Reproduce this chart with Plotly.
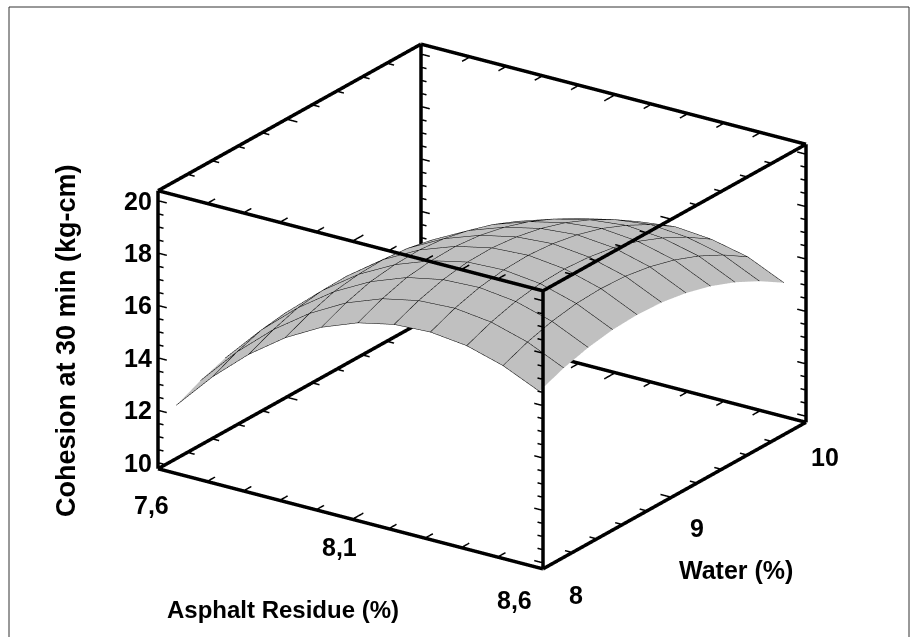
import plotly.graph_objects as go

asphalt = [7.6, 7.7, 7.8, 7.9, 8.0, 8.1, 8.2, 8.3, 8.4, 8.5, 8.6]
water = [8.0, 8.2, 8.4, 8.6, 8.8, 9.0, 9.2, 9.4, 9.6, 9.8, 10.0]
# each row below is one asphalt value, across water
cohesion_by_asphalt = [
    [12.37, 12.80, 13.13, 13.32, 13.40, 13.37, 13.23, 13.00, 12.66, 12.25, 11.73],
    [13.82, 14.25, 14.57, 14.71, 14.75, 14.66, 14.47, 14.20, 13.81, 13.39, 12.87],
    [15.04, 15.46, 15.77, 15.91, 15.94, 15.85, 15.65, 15.37, 14.98, 14.56, 14.03],
    [16.03, 16.44, 16.75, 16.89, 16.93, 16.84, 16.64, 16.36, 15.97, 15.54, 15.00],
    [16.79, 17.20, 17.49, 17.62, 17.66, 17.57, 17.36, 17.07, 16.67, 16.20, 15.61],
    [17.32, 17.72, 18.01, 18.13, 18.16, 18.06, 17.85, 17.54, 17.12, 16.62, 16.01],
    [17.62, 18.01, 18.29, 18.44, 18.46, 18.36, 18.16, 17.86, 17.45, 16.94, 16.34],
    [17.69, 18.08, 18.35, 18.50, 18.54, 18.46, 18.28, 18.00, 17.60, 17.11, 16.51],
    [17.53, 17.91, 18.18, 18.34, 18.38, 18.31, 18.15, 17.87, 17.48, 16.99, 16.39],
    [17.13, 17.51, 17.78, 17.94, 17.99, 17.94, 17.78, 17.52, 17.15, 16.67, 16.08],
    [16.51, 16.88, 17.14, 17.30, 17.35, 17.30, 17.14, 16.88, 16.51, 16.03, 15.45],
]
z_rows = [list(col) for col in zip(*cohesion_by_asphalt)]

x_ticks = [7.685, 7.785, 7.885, 7.985, 8.085, 8.185, 8.285, 8.385, 8.485]
x_major = [8.085]
y_ticks = [8.24, 8.44, 8.65, 8.85, 9.05, 9.26, 9.46, 9.67, 9.87]
y_major = [9.05]
z_ticks = [10, 10.5, 11, 11.5, 12, 12.5, 13, 13.5, 14, 14.5, 15, 15.5, 16, 16.5,
           17, 17.5, 18, 18.5, 19, 19.5, 20]
z_major = [10, 12, 14, 16, 18, 20]
x_labels = [(7.6, "7,6", -25, -32), (8.1, "8,1", -18, -26), (8.6, "8,6", -25, -32)]
y_labels = [(8, "8", 33, -26), (9, "9", 32, -27), (10, "10", 37, -25)]
box_x = [7.55, 8.61]
box_y = [8.0, 10.15]
box_z = [9.77, 20.38]
FONT = "Liberation Sans"
BOLD = dict(family=FONT, size=25, color="black", weight="bold")

x0, x1 = box_x
y0, y1 = box_y
z0, z1 = box_z
PAD = 0.03

def axis(rng):
    span = rng[1] - rng[0]
    return dict(range=[rng[0] - PAD * span, rng[1] + PAD * span], autorange=False,
                title=dict(text=""), visible=False,
                showbackground=False, showgrid=False, zeroline=False, showline=False,
                showticklabels=False, ticks="", showspikes=False)

fig = go.Figure(go.Surface(
    x=asphalt, y=water, z=z_rows,
    colorscale=[[0, "#C0C0C0"], [1, "#C0C0C0"]], showscale=False,
    lighting=dict(ambient=1, diffuse=0, specular=0, roughness=1, fresnel=0),
    contours=dict(
        x=dict(show=True, start=7.6, end=8.6001, size=0.1, color="black", width=2),
        y=dict(show=True, start=8.0, end=10.001, size=0.2, color="black", width=2),
    ),
    hoverinfo="skip",
))

def seg(xs, ys, zs, w):
    fig.add_trace(go.Scatter3d(x=xs, y=ys, z=zs, mode="lines",
                               line=dict(color="black", width=w),
                               hoverinfo="skip", showlegend=False))

# box frame: twelve edges
for yy in (y0, y1):
    for zz in (z0, z1):
        seg([x0, x1], [yy, yy], [zz, zz], 7)
for xx in (x0, x1):
    for zz in (z0, z1):
        seg([xx, xx], [y0, y1], [zz, zz], 7)
for xx in (x0, x1):
    for yy in (y0, y1):
        seg([xx, xx], [yy, yy], [z0, z1], 7)

# tick stubs on every edge
for v in x_ticks:
    ln = (0.09 if v in x_major else 0.065)
    for yy, sgn in ((y0, 1), (y1, -1)):
        for zz in (z0, z1):
            seg([v, v], [yy, yy + sgn * ln], [zz, zz], 3)
for v in y_ticks:
    ln = (0.03 if v in y_major else 0.02)
    for xx, sgn in ((x0, 1), (x1, -1)):
        for zz in (z0, z1):
            seg([xx, xx + sgn * ln], [v, v], [zz, zz], 3)
for v in z_ticks:
    ln = (0.024 if v in z_major else 0.015)
    for xx, sgn in ((x0, 1), (x1, -1)):
        for yy in (y0, y1):
            seg([xx, xx + sgn * ln], [yy, yy], [v, v], 3)

annotations = []
for v, t, sx, sy in x_labels:
    annotations.append(dict(x=v, y=y0, z=z0, text=t, showarrow=False,
                            font=BOLD, xshift=sx, yshift=sy))
for v, t, sx, sy in y_labels:
    annotations.append(dict(x=x1, y=v, z=z0, text=t, showarrow=False,
                            font=BOLD, xshift=sx, yshift=sy))
for v in z_major:
    annotations.append(dict(x=x0, y=y0, z=v, text=str(v), showarrow=False,
                            font=BOLD, xanchor="right", xshift=-4))

k = 3.0
sc = 1.521 * (1 + 2 * PAD)
fig.update_layout(
    width=918, height=637,
    margin=dict(l=0, r=0, t=0, b=0),
    paper_bgcolor="white",
    showlegend=False,
    scene=dict(
        domain=dict(x=[0.05, 1.0], y=[0.038, 1.0]),
        xaxis=axis(box_x),
        yaxis=axis(box_y),
        zaxis=axis(box_z),
        aspectmode="manual",
        aspectratio=dict(x=sc, y=sc, z=0.645 * sc),
        camera=dict(
            projection=dict(type="orthographic"),
            eye=dict(x=0.522 * k, y=-0.764 * k, z=0.381 * k),
            up=dict(x=0, y=0, z=1),
            center=dict(x=0, y=0, z=0),
        ),
        annotations=annotations,
    ),
    shapes=[dict(type="rect", xref="paper", yref="paper", x0=9 / 918, x1=909 / 918,
                 y0=-0.02, y1=1 - 7 / 637, line=dict(color="#333333", width=1))],
    annotations=[
        dict(xref="paper", yref="paper", x=283 / 918, y=1 - 609 / 637, text="Asphalt Residue (%)",
             showarrow=False, xanchor="center", yanchor="middle",
             font=dict(family=FONT, size=24, color="black", weight="bold")),
        dict(xref="paper", yref="paper", x=736 / 918, y=1 - 570 / 637, text="Water (%)",
             showarrow=False, xanchor="center", yanchor="middle", font=BOLD),
        dict(xref="paper", yref="paper", x=66 / 918, y=1 - 341 / 637, text="Cohesion at 30 min (kg-cm)",
             showarrow=False, xanchor="center", yanchor="middle",
             font=dict(family=FONT, size=27, color="black", weight="bold"), textangle=-90),
    ],
)
fig.write_html("out.html", config=dict(displayModeBar=False),
               post_script="document.body.style.margin='0';document.documentElement.style.overflow='hidden';")
